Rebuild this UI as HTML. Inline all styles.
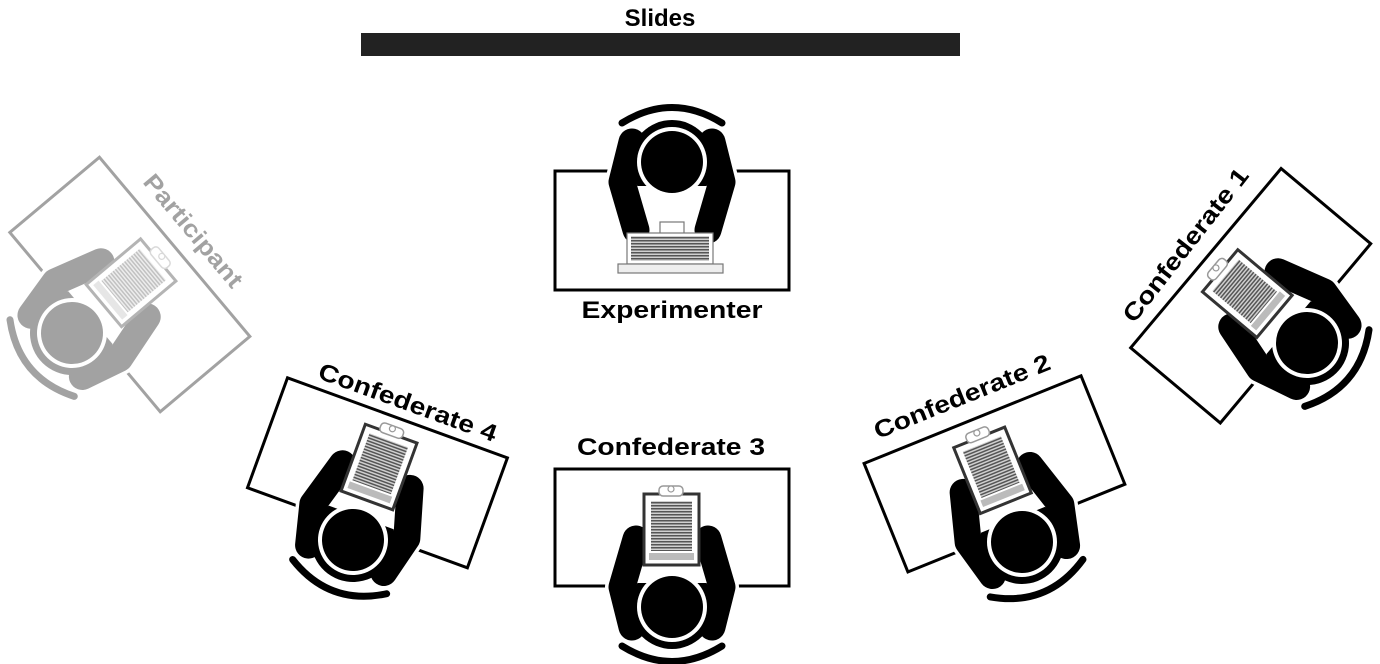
<!DOCTYPE html>
<html><head><meta charset="utf-8"><style>
html,body{margin:0;padding:0;background:#fff;}
svg{display:block;}
text{font-family:"Liberation Sans",sans-serif;font-weight:bold;}
</style></head><body>
<svg width="1380" height="664" viewBox="0 0 1380 664" xmlns="http://www.w3.org/2000/svg">
<defs>
<pattern id="ln" patternUnits="userSpaceOnUse" width="4" height="3">
<rect width="4" height="3" fill="#d0d0d0"/><rect width="4" height="1.5" fill="#555"/>
</pattern>
<clipPath id="tc"><rect x="-60" y="-24" width="120" height="90"/></clipPath>
<g id="person">
 <g stroke="#fff" stroke-width="34" fill="none" stroke-linecap="round" stroke-linejoin="round">
  <path d="M-40 20 L-50 -20 L-36 -68"/><path d="M40 20 L50 -20 L36 -68"/>
 </g>
 <circle r="47" fill="#fff"/>
 <circle r="42" fill="#000" clip-path="url(#tc)"/>
 <g stroke="#000" stroke-width="27" fill="none" stroke-linecap="round" stroke-linejoin="round">
  <path d="M-40 20 L-50 -20 L-36 -68"/><path d="M40 20 L50 -20 L36 -68"/>
 </g>
 <circle r="35" fill="#fff"/>
 <circle r="31" fill="#000"/>
 <path d="M-50 39 Q0 70 50 39" stroke="#000" stroke-width="7" fill="none" stroke-linecap="round"/>
</g>
<g id="clipb">
 <rect x="-28" y="-113" width="55" height="71" fill="#fff" stroke="#333" stroke-width="3"/>
 <rect x="-21" y="-106" width="41" height="50" fill="url(#ln)"/>
 <rect x="-23" y="-54" width="45" height="7" fill="#bbb"/>
 <rect x="-13" y="-121" width="24" height="10" rx="4" fill="#fff" stroke="#999" stroke-width="1.5"/>
 <circle cx="-1" cy="-118" r="3" fill="#fff" stroke="#999" stroke-width="1.2"/>
</g>
</defs>

<text x="660" y="26" font-size="24" text-anchor="middle">Slides</text>
<rect x="361" y="33" width="599" height="23" fill="#222"/>

<!-- Experimenter -->
<g transform="translate(672,162) rotate(180)">
 <rect x="-117" y="-128" width="234" height="119" fill="none" stroke="#000" stroke-width="3"/>
 <use href="#person"/>
</g>
<g>
 <rect x="660" y="222" width="24" height="12" fill="#fff" stroke="#777" stroke-width="1.2"/>
 <rect x="627" y="233" width="86" height="31" fill="#fff" stroke="#777" stroke-width="1.2"/>
 <rect x="631" y="236" width="78" height="25" fill="url(#ln)"/>
 <rect x="618" y="264" width="105" height="9" fill="#eee" stroke="#777" stroke-width="1.2"/>
</g>
<text x="672" y="318" font-size="24" text-anchor="middle" textLength="181" lengthAdjust="spacingAndGlyphs">Experimenter</text>

<!-- Confederate 3 -->
<g transform="translate(672,607)">
 <rect x="-117" y="-138" width="234" height="117" fill="none" stroke="#000" stroke-width="3"/>
 <use href="#person"/><use href="#clipb"/>
</g>
<text x="671" y="455" font-size="24" text-anchor="middle" textLength="188" lengthAdjust="spacingAndGlyphs">Confederate 3</text>

<!-- Confederate 4 -->
<g transform="translate(353,540) rotate(20)">
 <rect x="-117" y="-130" width="234" height="117" fill="none" stroke="#000" stroke-width="3"/>
 <use href="#person"/><use href="#clipb"/>
</g>
<text transform="translate(405,410) rotate(20)" font-size="24" text-anchor="middle" textLength="188" lengthAdjust="spacingAndGlyphs">Confederate 4</text>

<!-- Confederate 2 -->
<g transform="translate(1022,542) rotate(-22)">
 <rect x="-117" y="-132" width="234" height="117" fill="none" stroke="#000" stroke-width="3"/>
 <use href="#person"/><use href="#clipb"/>
</g>
<text transform="translate(965,404) rotate(-22)" font-size="24" text-anchor="middle" textLength="188" lengthAdjust="spacingAndGlyphs">Confederate 2</text>

<!-- Confederate 1 -->
<g transform="translate(1307,343) rotate(-50)">
 <rect x="-117" y="-132" width="234" height="117" fill="none" stroke="#000" stroke-width="3"/>
 <use href="#person"/><use href="#clipb"/>
</g>
<text transform="translate(1192,250) rotate(-52)" font-size="24" text-anchor="middle" textLength="188" lengthAdjust="spacingAndGlyphs">Confederate 1</text>

<!-- Participant -->
<g opacity="0.36">
<g transform="translate(72,333) rotate(50)">
 <rect x="-117" y="-134" width="234" height="117" fill="none" stroke="#000" stroke-width="3"/>
 <use href="#person"/><use href="#clipb"/>
</g>
<text transform="translate(187,236) rotate(50)" font-size="24" text-anchor="middle" textLength="140" lengthAdjust="spacingAndGlyphs">Participant</text>
</g>
</svg>
</body></html>
